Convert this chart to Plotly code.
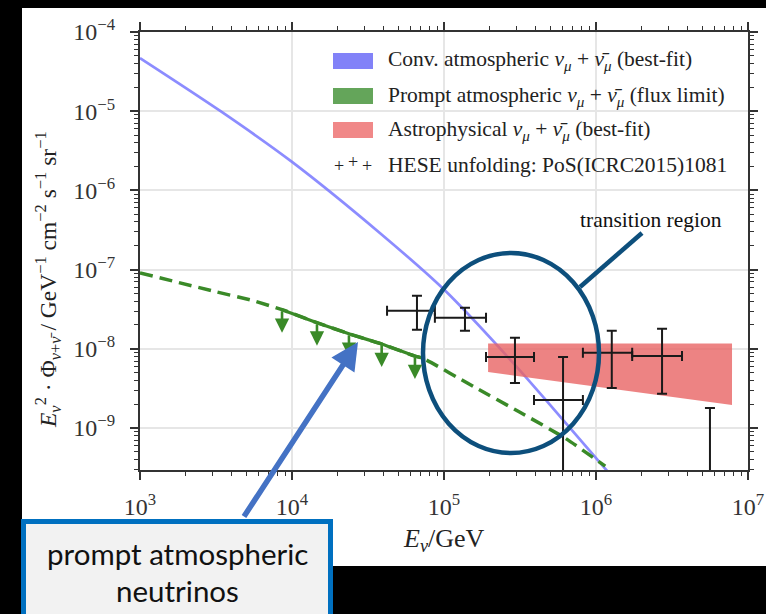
import numpy as np
import plotly.graph_objects as go

# ---------------- data ----------------
conv_e = [1e3, 3.39e3, 1e4, 3.8e4, 1e5, 2.82e5, 6.76e5, 1.26e6]
conv_f = [4.68e-5, 1.0e-5, 2.29e-6, 2.88e-7, 5.6e-8, 6.8e-9, 1.0e-9, 2.5e-10]

prompt_e = [1e3, 3.16e3, 5.5e3, 8.6e3, 1.46e4, 2.37e4, 3.89e4, 6.44e4, 7.24e4, 1.58e5, 3.16e5, 6.3e5, 1.15e6]
prompt_f = [9.1e-8, 5.25e-8, 4.07e-8, 3.12e-8, 2.14e-8, 1.55e-8, 1.15e-8, 8.1e-9, 7.6e-9, 3.3e-9, 1.58e-9, 7.4e-10, 3.3e-10]
prompt_solid_e = [8.6e3, 1.46e4, 2.37e4, 3.89e4, 6.44e4, 7.24e4]
prompt_solid_f = [3.12e-8, 2.14e-8, 1.55e-8, 1.15e-8, 8.1e-9, 7.6e-9]
limit_e = [8.6e3, 1.46e4, 2.37e4, 3.89e4, 6.44e4]
limit_f = [3.12e-8, 2.14e-8, 1.55e-8, 1.15e-8, 8.1e-9]

astro_e = [1.95e5, 7.85e6]
astro_hi = [1.17e-8, 1.17e-8]
astro_lo = [5.1e-9, 1.95e-9]

hese_e = [6.64e4, 1.374e5, 2.93e5, 6.07e5, 1.27e6, 2.72e6]
hese_e_lo = [4.22e4, 8.71e4, 1.89e5, 3.91e5, 8.2e5, 1.73e6]
hese_e_hi = [8.71e4, 1.89e5, 3.91e5, 8.2e5, 1.73e6, 3.68e6]
hese_f = [3.03e-8, 2.47e-8, 7.9e-9, 2.26e-9, 8.9e-9, 8.1e-9]
hese_f_hi = [4.69e-8, 3.30e-8, 1.38e-8, 7.9e-9, 1.69e-8, 1.79e-8]
hese_f_lo = [1.74e-8, 1.69e-8, 3.7e-9, 1e-10, 3.2e-9, 2.7e-9]
hese_ul_e = [5.62e6]
hese_ul_f = [1.79e-9]
hese_ul_lo = [1e-10]

x_tickvals = [1e3, 1e4, 1e5, 1e6, 1e7]
x_ticktext = ["10<sup>3</sup>", "10<sup>4</sup>", "10<sup>5</sup>", "10<sup>6</sup>", "10<sup>7</sup>"]
y_tickvals = [1e-9, 1e-8, 1e-7, 1e-6, 1e-5, 1e-4]
y_ticktext = ["10<sup>\u22129</sup>", "10<sup>\u22128</sup>", "10<sup>\u22127</sup>",
              "10<sup>\u22126</sup>", "10<sup>\u22125</sup>", "10<sup>\u22124</sup>"]

legend_labels = [
    "Conv. atmospheric <i>\u03bd</i><sub><i>\u03bc</i></sub> + <i>\u03bd\u0304</i><sub><i>\u03bc</i></sub> (best-fit)",
    "Prompt atmospheric <i>\u03bd</i><sub><i>\u03bc</i></sub> + <i>\u03bd\u0304</i><sub><i>\u03bc</i></sub> (flux limit)",
    "Astrophysical <i>\u03bd</i><sub><i>\u03bc</i></sub> + <i>\u03bd\u0304</i><sub><i>\u03bc</i></sub> (best-fit)",
    "HESE unfolding: PoS(ICRC2015)1081",
]
legend_colors = ["#8282f8", "#64a55a", "#f08888"]
callout_lines = ["prompt atmospheric", "neutrinos"]

# ---------------- style ----------------
SERIF = "Liberation Serif, Times New Roman, serif"
BLUE = "rgba(120,120,255,0.85)"
GREEN = "#3a8a28"
RED = "rgba(232,100,100,0.8)"
CIRC = "#0d4f7c"

W, H = 766, 614
L, R, T, B = 140, 18, 32, 144
PW, PH = W - L - R, H - T - B


def px(xp):
    return (xp - L) / PW


def py(yp):
    return (H - B - yp) / PH


fig = go.Figure()

fig.add_trace(go.Scatter(x=conv_e, y=conv_f, mode="lines",
                         line=dict(color=BLUE, width=2.7, shape="spline", smoothing=0.8),
                         showlegend=False))

band_x = astro_e + astro_e[::-1]
band_y = astro_hi + astro_lo[::-1]
fig.add_trace(go.Scatter(x=band_x, y=band_y, mode="lines", fill="toself",
                         fillcolor=RED, line=dict(width=0), showlegend=False))

fig.add_trace(go.Scatter(x=prompt_e, y=prompt_f, mode="lines",
                         line=dict(color=GREEN, width=3.5, dash="13px,7px", shape="spline", smoothing=0.6),
                         showlegend=False))
fig.add_trace(go.Scatter(x=prompt_solid_e, y=prompt_solid_f, mode="lines",
                         line=dict(color=GREEN, width=3.2, shape="spline", smoothing=0.6),
                         showlegend=False))

fig.add_trace(go.Scatter(
    x=hese_e, y=hese_f, mode="markers",
    marker=dict(size=1, color="rgba(0,0,0,0)"),
    error_x=dict(type="data", symmetric=False,
                 array=[h - c for h, c in zip(hese_e_hi, hese_e)],
                 arrayminus=[c - lo for c, lo in zip(hese_e, hese_e_lo)],
                 color="#1a1a1a", thickness=2, width=5),
    error_y=dict(type="data", symmetric=False,
                 array=[h - c for h, c in zip(hese_f_hi, hese_f)],
                 arrayminus=[c - lo for c, lo in zip(hese_f, hese_f_lo)],
                 color="#1a1a1a", thickness=2, width=5),
    showlegend=False))
fig.add_trace(go.Scatter(
    x=hese_ul_e, y=hese_ul_f, mode="markers",
    marker=dict(size=1, color="rgba(0,0,0,0)"),
    error_y=dict(type="data", symmetric=False, array=[0],
                 arrayminus=[c - lo for c, lo in zip(hese_ul_f, hese_ul_lo)],
                 color="#1a1a1a", thickness=2, width=5),
    showlegend=False))

shapes = []
annotations = []

# black frame around the white page (paper decoration)
for x0, x1, y0, y1 in [(-50, 900, -50, 8), (-50, 22, -50, 700), (333, 900, 566, 700)]:
    shapes.append(dict(type="rect", xref="paper", yref="paper", layer="below",
                       x0=px(x0), x1=px(x1), y0=py(y1), y1=py(y0),
                       fillcolor="black", line=dict(width=0)))

# limit arrows on the prompt flux limit
ARROW_DEC = 23 / 79.2
for e, f in zip(limit_e, limit_f):
    annotations.append(dict(x=np.log10(e), y=np.log10(f) - ARROW_DEC, xref="x", yref="y",
                            ax=0, ay=-23, text="", showarrow=True, arrowhead=2,
                            arrowsize=1.1, arrowwidth=2.6, arrowcolor=GREEN))

# transition region ellipse
shapes.append(dict(type="circle", xref="paper", yref="paper", layer="above",
                   x0=px(423), x1=px(599), y0=py(453), y1=py(253),
                   line=dict(color=CIRC, width=4.5)))
shapes.append(dict(type="line", xref="paper", yref="paper", layer="above",
                   x0=px(580), y0=py(287), x1=px(642), y1=py(233),
                   line=dict(color=CIRC, width=4.5)))
annotations.append(dict(x=px(651), y=py(220), xref="paper", yref="paper",
                        xanchor="center", yanchor="middle",
                        text="transition region", showarrow=False,
                        font=dict(family=SERIF, size=21.5, color="#111")))

# legend (drawn manually)
rows = [61, 96, 130, 165]
for i, c in enumerate(legend_colors):
    shapes.append(dict(type="rect", xref="paper", yref="paper", layer="above",
                       x0=px(333), x1=px(373), y0=py(rows[i] + 8), y1=py(rows[i] - 8),
                       fillcolor=c, line=dict(width=0)))
for i, lab in enumerate(legend_labels):
    annotations.append(dict(x=px(386), y=py(rows[i]), xref="paper", yref="paper",
                            xanchor="left", yanchor="middle", text=lab, showarrow=False,
                            font=dict(family=SERIF, size=21.5, color="#222")))
for xo, yo in [(339, 166), (353, 162), (367, 166)]:
    annotations.append(dict(x=px(xo), y=py(yo), xref="paper", yref="paper",
                            xanchor="center", yanchor="middle",
                            text="+", showarrow=False,
                            font=dict(family=SERIF, size=18, color="#222")))

# axis titles
annotations.append(dict(x=px(444), y=py(540), xref="paper", yref="paper",
                        xanchor="center", yanchor="middle",
                        text="<i>E</i><sub><i>\u03bd</i></sub>/GeV", showarrow=False,
                        font=dict(family=SERIF, size=26, color="#222")))
annotations.append(dict(x=px(48), y=py(280), xref="paper", yref="paper", textangle=-90,
                        xanchor="center", yanchor="middle",
                        text="<i>E</i><sub><i>\u03bd</i></sub><sup>2</sup> \u00b7 \u03a6<sub><i>\u03bd</i>+<i>\u03bd\u0304</i></sub>"
                             " / GeV<sup>\u22121</sup> cm<sup>\u22122</sup> s<sup>\u22121</sup> sr<sup>\u22121</sup>",
                        showarrow=False, font=dict(family=SERIF, size=23.5, color="#222")))

# callout box
shapes.append(dict(type="rect", xref="paper", yref="paper", layer="above",
                   x0=px(23.5), x1=px(330.5), y0=py(700), y1=py(521.5),
                   fillcolor="#f2f2f2", line=dict(color="#0070c0", width=5)))
for line_text, yl in zip(callout_lines, [553, 590]):
    annotations.append(dict(x=px(177), y=py(yl), xref="paper", yref="paper",
                            xanchor="center", yanchor="middle",
                            text=line_text, showarrow=False,
                            font=dict(family="Lato, Open Sans, sans-serif", size=29.5, color="#111")))
annotations.append(dict(x=px(358), y=py(342), xref="paper", yref="paper",
                        ax=243 - 358, ay=518 - 342, text="", showarrow=True,
                        arrowhead=2, arrowsize=1.0, arrowwidth=5.5, arrowcolor="#4472c4"))

minor_x = [m * 10 ** e for e in range(3, 7) for m in range(2, 10)]
minor_y = [m * 10.0 ** e for e in range(-10, -4) for m in range(2, 10)]

axis_common = dict(showline=True, linecolor="#333", linewidth=2, mirror="ticks",
                   ticks="outside", ticklen=8, tickwidth=1.6, tickcolor="#333",
                   showgrid=True, gridcolor="#e6e6e6", gridwidth=1.5, zeroline=False,
                   automargin=False,
                   tickfont=dict(family=SERIF, size=24, color="#333"))

fig.update_layout(
    width=W, height=H, margin=dict(l=L, r=R, t=T, b=B, autoexpand=False),
    paper_bgcolor="white", plot_bgcolor="white",
    xaxis=dict(type="log", range=[3, 7], tickmode="array", tickvals=x_tickvals,
               ticktext=x_ticktext, ticklabelstandoff=6,
               minor=dict(tickmode="array", tickvals=minor_x, ticks="outside", ticklen=4,
                          tickwidth=1.2, tickcolor="#333", showgrid=False),
               **axis_common),
    yaxis=dict(type="log", range=[-9.53, -4], tickmode="array", tickvals=y_tickvals,
               ticktext=y_ticktext, ticklabelstandoff=10,
               minor=dict(tickmode="array", tickvals=minor_y, ticks="outside", ticklen=4,
                          tickwidth=1.2, tickcolor="#333", showgrid=False),
               **axis_common),
    shapes=shapes, annotations=annotations, showlegend=False,
)

fig.write_html("out.html")
